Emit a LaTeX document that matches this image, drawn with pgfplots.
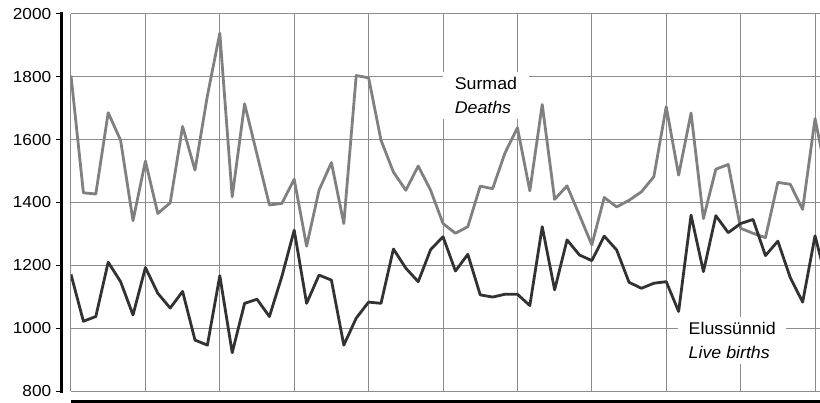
\documentclass[border=0pt]{standalone}
\usepackage{pgfplots}
\pgfplotsset{compat=1.18}
\usepackage{pgfplotstable}
\usepackage{fontspec}
\setmainfont{Liberation Sans}

\definecolor{deathgray}{RGB}{128,128,128}
\definecolor{birthdark}{RGB}{50,50,50}
\definecolor{gridgray}{RGB}{140,140,140}

% monthly deaths and live births
\pgfplotstableread{
i deaths births
0 1804 1171
1 1431 1022
2 1427 1037
3 1686 1210
4 1598 1148
5 1342 1042
6 1532 1193
7 1365 1111
8 1399 1064
9 1642 1117
10 1503 962
11 1740 946
12 1939 1167
13 1418 922
14 1714 1079
15 1553 1092
16 1392 1037
17 1397 1164
18 1474 1312
19 1261 1079
20 1439 1169
21 1527 1153
22 1333 946
23 1804 1032
24 1797 1083
25 1598 1079
26 1497 1252
27 1439 1191
28 1516 1148
29 1439 1250
30 1333 1291
31 1302 1182
32 1323 1235
33 1452 1106
34 1444 1099
35 1558 1108
36 1638 1108
37 1437 1072
38 1712 1323
39 1410 1122
40 1453 1281
41 1360 1233
42 1265 1215
43 1416 1293
44 1386 1249
45 1407 1146
46 1434 1127
47 1482 1143
48 1705 1148
49 1487 1053
50 1685 1360
51 1349 1180
52 1506 1358
53 1521 1304
54 1318 1333
55 1302 1346
56 1288 1231
57 1464 1277
58 1458 1161
59 1378 1083
60 1667 1294
61 1470 1140
}\vitals

\begin{document}
\begin{tikzpicture}
\begin{axis}[
  scale only axis,
  width=749bp, height=377bp,
  xmin=0, xmax=60.4,
  ymin=800, ymax=2000,
  xtick={0,6,...,60},
  ytick={800,1000,...,2000},
  xticklabels={},
  grid=major,
  major grid style={gridgray, line width=1bp},
  axis line style={draw=none},
  major tick length=0pt,
  tick label style={font=\fontsize{16}{19}\selectfont},
  yticklabel style={anchor=east, xshift=-16bp, xscale=1.08},
  /pgf/number format/assume math mode=true,
  /pgf/number format/1000 sep={},
]
\addplot[deathgray, line width=2.8bp, line join=round] table[x=i, y=deaths] {\vitals};
\addplot[birthdark, line width=2.8bp, line join=round] table[x=i, y=births] {\vitals};

\node[fill=white, anchor=north west, align=left, inner xsep=11bp, inner ysep=5bp,
      xscale=1.05, font=\fontsize{17}{24}\selectfont]
  at (axis cs:30.0,1815) {Surmad\\\textit{Deaths}};
\node[fill=white, anchor=north west, align=left, inner xsep=10bp, inner ysep=5bp,
      xscale=1.05, font=\fontsize{17}{24}\selectfont]
  at (axis cs:48.95,1035) {Elussünnid\\\textit{Live births}};

\coordinate (bl) at (axis cs:0,800);
\coordinate (tl) at (axis cs:0,2000);
\coordinate (br) at (axis cs:60.4,800);
\coordinate (tr) at (axis cs:60.4,2000);
\end{axis}

% detached axis lines
\draw[black, line width=3bp] ([xshift=-9bp,yshift=-1.5bp]bl) -- ([xshift=-9bp,yshift=1.5bp]tl);
\foreach \k in {0,...,6}
  \draw[black, line width=1bp] ([xshift=-9bp,yshift=\k*62.833bp]bl) -- ++(-6bp,0);
\draw[black, line width=3bp] ([yshift=-10.5bp]bl) -- ([yshift=-10.5bp]br);
\foreach \k in {0,...,10}
  \draw[black, line width=1bp] ([xshift=\k*74.4bp,yshift=-10.5bp]bl) -- ++(0,-6bp);

\pgfresetboundingbox
\path ([xshift=-71bp,yshift=-12bp]bl) rectangle ([yshift=14bp]tr);
\end{tikzpicture}
\end{document}
